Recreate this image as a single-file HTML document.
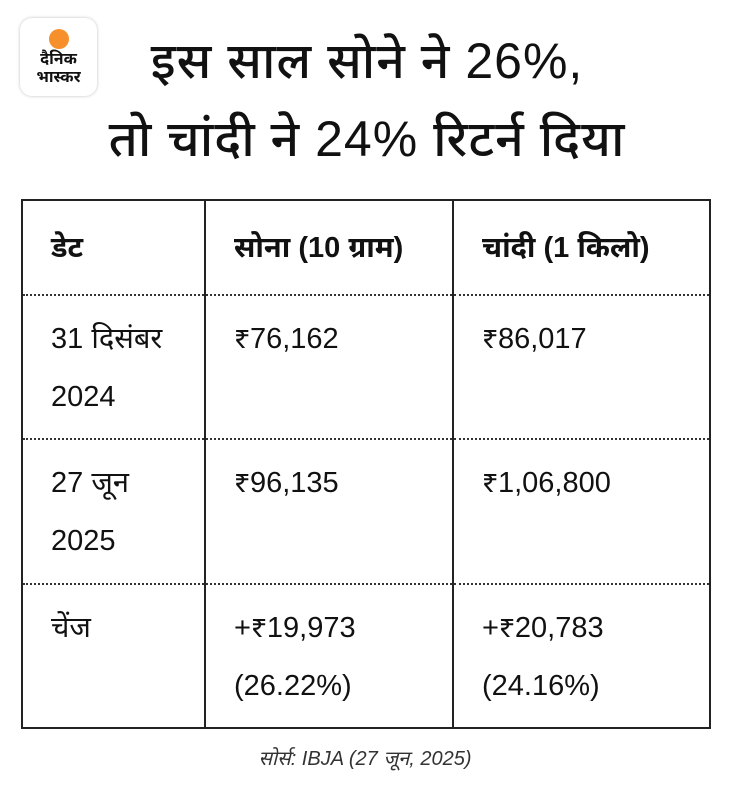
<!DOCTYPE html>
<html><head><meta charset="utf-8"><style>
body{margin:0;width:730px;height:799px;background:#fff;font-family:"Liberation Sans","Noto Sans Devanagari","Lohit Devanagari",sans-serif;color:#111;position:relative;overflow:hidden}
.logo{position:absolute;left:20px;top:18px;width:77px;height:78px;border-radius:12px;background:#fff;box-shadow:0 0 3px rgba(0,0,0,.25);text-align:center}
.dot{width:20px;height:20px;border-radius:50%;background:#f7902a;margin:11px auto 2px}
.lt{font-size:16px;font-weight:bold;line-height:18px}
.title{position:absolute;left:0;right:0;text-align:center;font-size:50px;font-weight:500;line-height:78px;top:22px;padding-left:4px;letter-spacing:1px}
table{position:absolute;left:21px;top:199px;width:688px;height:528px;border-collapse:collapse;font-size:29px;table-layout:fixed}
td{border-left:2px solid #222;border-right:2px solid #222;vertical-align:top;padding:0 0 0 28px;line-height:58px;white-space:nowrap}
tr{border-bottom:2px dotted #333}
tr:first-child{border-top:2px solid #222}
tr:last-child{border-bottom:2px solid #222}
.h td{font-weight:bold;vertical-align:middle}
.src{position:absolute;top:748px;left:0;right:0;text-align:center;font-style:italic;font-size:20px;color:#333}
</style></head><body>
<div class="logo"><div class="dot"></div><div class="lt">दैनिक<br>भास्कर</div></div>
<div class="title">इस साल सोने ने 26%,<br>तो चांदी ने 24% रिटर्न दिया</div>
<table>
<colgroup><col style="width:183px"><col style="width:248px"><col style="width:257px"></colgroup>
<tr class="h" style="height:95px"><td>डेट</td><td>सोना (10 ग्राम)</td><td>चांदी (1 किलो)</td></tr>
<tr style="height:144px"><td style="padding-top:14px">31 दिसंबर<br>2024</td><td style="padding-top:14px">₹76,162</td><td style="padding-top:14px">₹86,017</td></tr>
<tr style="height:145px"><td style="padding-top:14px">27 जून<br>2025</td><td style="padding-top:14px">₹96,135</td><td style="padding-top:14px">₹1,06,800</td></tr>
<tr style="height:144px"><td style="padding-top:14px">चेंज</td><td style="padding-top:14px">+₹19,973<br>(26.22%)</td><td style="padding-top:14px">+₹20,783<br>(24.16%)</td></tr>
</table>
<div class="src">सोर्स: IBJA (27 जून, 2025)</div>
</body></html>
